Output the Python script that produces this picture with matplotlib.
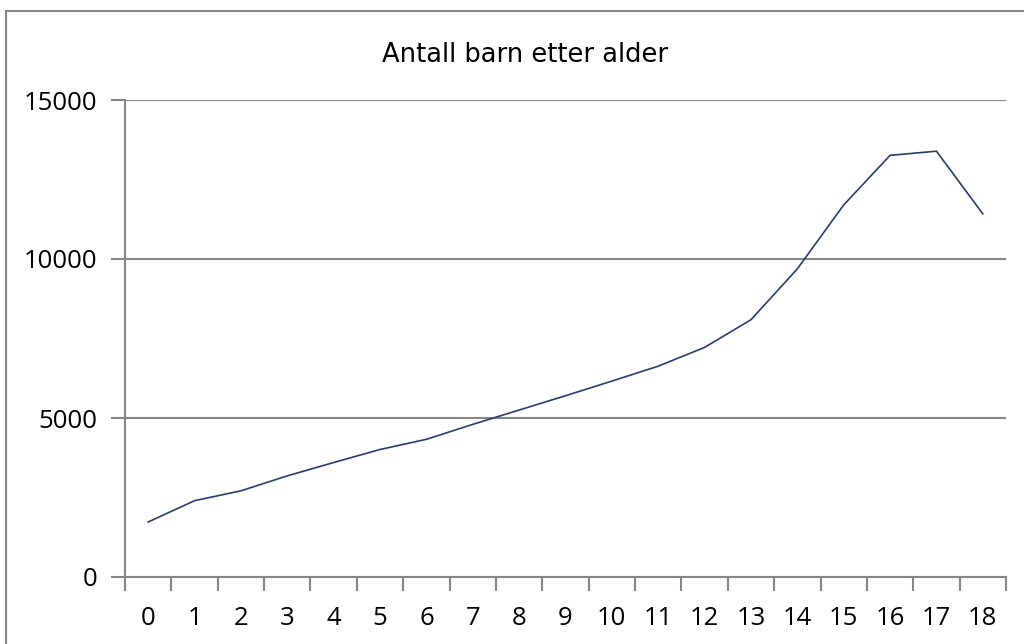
import matplotlib.pyplot as plt
from matplotlib.patches import Rectangle
import numpy as np

# Antall barn per alder (lest av figuren)
ages = [str(a) for a in range(19)]
counts = [1730, 2400, 2710, 3180, 3600, 4010, 4330, 4800, 5250, 5700,
          6160, 6630, 7220, 8090, 9690, 11700, 13260, 13390, 11420]
yticks = [0, 5000, 10000, 15000]

line_color = '#243f6b'
grid_color = '#868686'

fig = plt.figure(figsize=(10.24, 6.44), dpi=100)
ax = fig.add_axes([125 / 1024, 67 / 644, 881 / 1024, 477 / 644])

x = np.arange(len(ages))
ax.plot(x, counts, color=line_color, linewidth=1.2)

ax.set_xlim(-0.5, len(ages) - 0.5)
ax.set_ylim(0, 15000)

# category labels centred, tick marks between categories
ax.set_xticks(np.arange(-0.5, len(ages), 1.0))
ax.set_xticklabels([])
ax.set_xticks(x, minor=True)
ax.set_xticklabels(ages, minor=True, fontsize=18.5, family='Open Sans')
ax.tick_params(axis='x', which='major', length=10, width=1.5, color=grid_color, direction='out')
ax.tick_params(axis='x', which='minor', length=0, pad=21)

ax.set_yticks(yticks)
ax.set_yticklabels([str(v) for v in yticks], fontsize=18.5, family='Open Sans')
ax.tick_params(axis='y', length=10, width=1.5, color=grid_color, pad=10)

ax.yaxis.grid(True, color=grid_color, linewidth=1.5)
ax.set_axisbelow(True)

for side in ['top', 'right']:
    ax.spines[side].set_visible(False)
for side in ['left', 'bottom']:
    ax.spines[side].set_color(grid_color)
    ax.spines[side].set_linewidth(1.5)

fig.text(525 / 1024, 1 - 55 / 644, 'Antall barn etter alder', ha='center', va='center',
         fontsize=18.5, family='DejaVu Sans')

# chart border
fig.patches.append(Rectangle((6 / 1024, -0.1), 1.2, 1 - 11 / 644 + 0.1,
                             transform=fig.transFigure, fill=False,
                             edgecolor=grid_color, linewidth=1.5))

fig.savefig('out.png', dpi=100)
